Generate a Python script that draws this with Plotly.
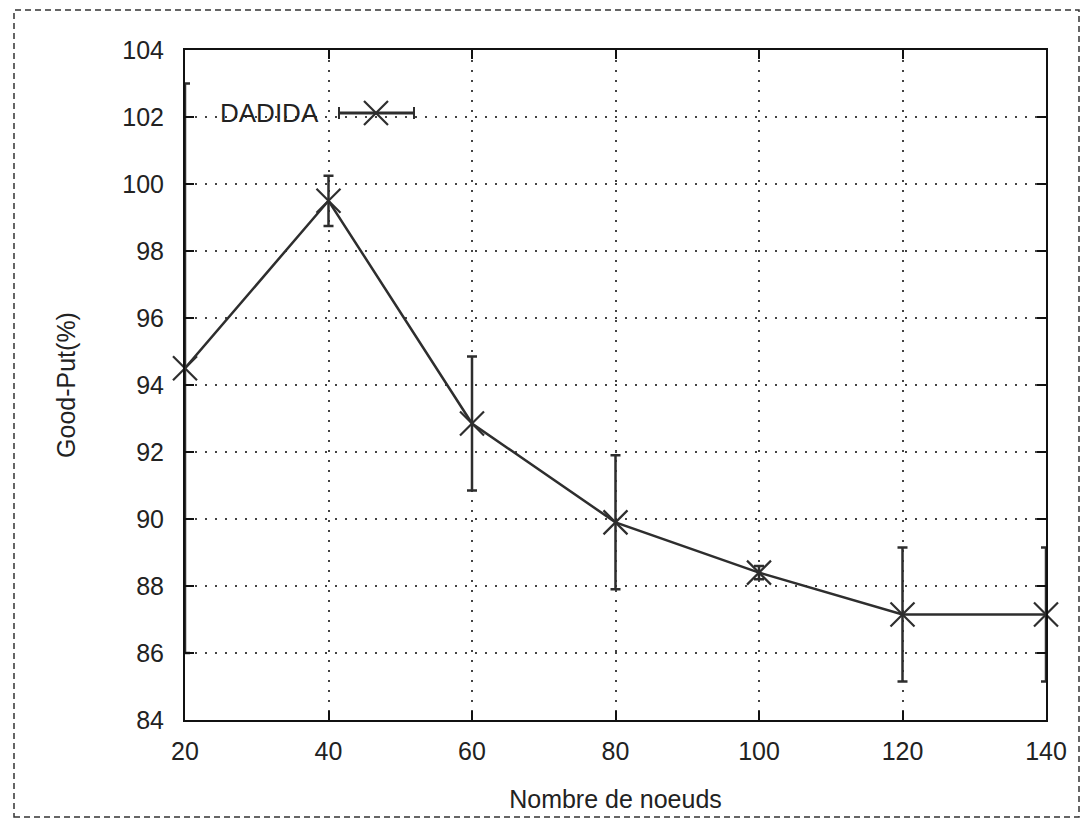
import plotly.graph_objects as go

# Data
nodes = [20, 40, 60, 80, 100, 120, 140]
goodput = [94.5, 99.5, 92.85, 89.9, 88.4, 87.15, 87.15]
err = [8.5, 0.75, 2.0, 2.0, 0.2, 2.0, 2.0]
series_name = "DADIDA"
x_ticks = [20, 40, 60, 80, 100, 120, 140]
y_ticks = [84, 86, 88, 90, 92, 94, 96, 98, 100, 102, 104]

INK = "#2e2e2e"
FONT = "Liberation Sans, Arial, sans-serif"
FS = 25

W, H = 1081, 824
L, R, T, B = 185, 35, 50, 104
pw, ph = W - L - R, H - T - B


def px_x(p):
    return (p - L) / pw


def px_y(p):
    return (H - B - p) / ph


fig = go.Figure()
fig.add_trace(go.Scatter(
    x=nodes, y=goodput, mode="lines+markers", name=series_name,
    line=dict(color=INK, width=2.5),
    marker=dict(symbol="x-thin-open", size=24, line=dict(color=INK, width=2.2), color=INK),
    error_y=dict(type="data", array=err, visible=True, color=INK, thickness=2.5, width=5),
    cliponaxis=False, showlegend=False,
))

# legend key (gnuplot style: text then sample)
ly = px_y(113)
fig.add_trace(go.Scatter(
    x=[px_x(376)], y=[ly], xaxis="x2", yaxis="y2", mode="markers",
    marker=dict(symbol="x-thin-open", size=24, color=INK, line=dict(color=INK, width=2.2)),
    showlegend=False, hoverinfo="skip",
))
fig.add_shape(type="line", xref="paper", yref="paper", x0=px_x(339), x1=px_x(414), y0=ly, y1=ly,
              line=dict(color=INK, width=3))
for xx in (339, 414):
    fig.add_shape(type="line", xref="paper", yref="paper", x0=px_x(xx), x1=px_x(xx),
                  y0=px_y(107), y1=px_y(119), line=dict(color=INK, width=2))
fig.add_annotation(text=series_name, xref="paper", yref="paper", x=px_x(218), y=ly,
                   xanchor="left", yanchor="middle", showarrow=False,
                   font=dict(family=FONT, size=26, color="#222"))

# outer dashed border
fig.add_shape(type="rect", xref="paper", yref="paper",
              x0=px_x(14), x1=px_x(1079), y0=px_y(817), y1=px_y(10),
              line=dict(color="#333", width=1.5, dash="6px,4px"), layer="below")

axis_common = dict(
    showline=True, linecolor="#111", linewidth=2, mirror="ticks",
    ticks="inside", ticklen=9, tickwidth=1.5, tickcolor="#111",
    showgrid=True, gridcolor="#444", gridwidth=1.6, griddash="2px,8px",
    zeroline=False, tickfont=dict(family=FONT, size=FS, color="#222"),
)

fig.update_layout(
    width=W, height=H,
    margin=dict(l=L, r=R, t=T, b=B),
    paper_bgcolor="white", plot_bgcolor="white",
    xaxis=dict(range=[20, 140], tickvals=x_ticks, ticklabelstandoff=8,
               title=dict(text="Nombre de noeuds", font=dict(family=FONT, size=FS, color="#222"), standoff=26),
               **axis_common),
    yaxis=dict(range=[84, 104], tickvals=y_ticks, ticklabelstandoff=14,
               title=dict(text="Good-Put(%)", font=dict(family=FONT, size=FS, color="#222"), standoff=40),
               **axis_common),
    xaxis2=dict(overlaying="x", range=[0, 1], visible=False, fixedrange=True),
    yaxis2=dict(overlaying="y", range=[0, 1], visible=False, fixedrange=True),
    showlegend=False,
)

fig.write_html("out.html")
